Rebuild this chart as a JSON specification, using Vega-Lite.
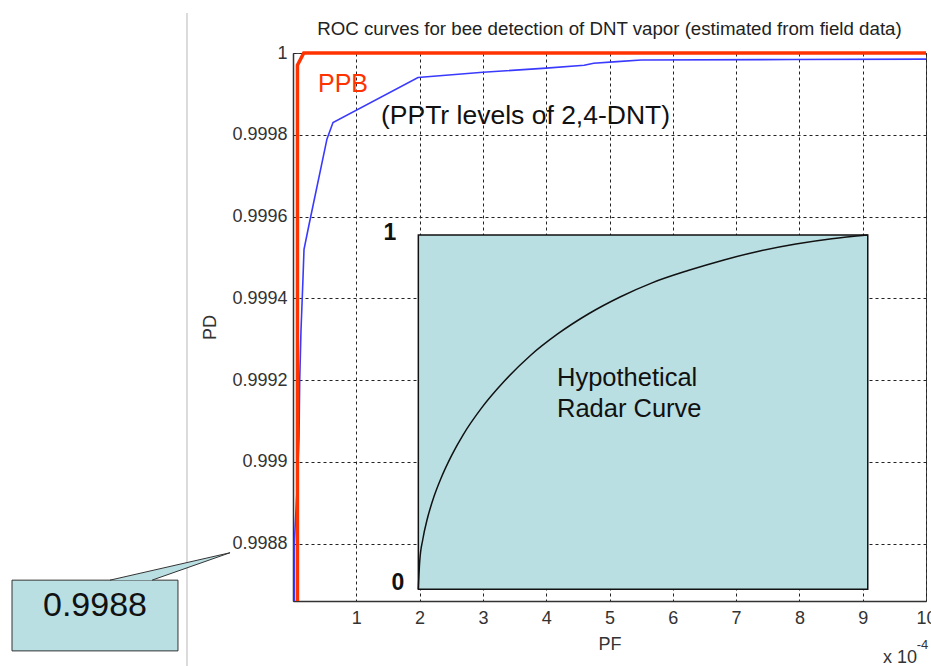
{
  "$schema": "https://vega.github.io/schema/vega-lite/v6.json",
  "width": 633,
  "height": 548,
  "autosize": "none",
  "padding": {"left": 293, "top": 53, "right": 5, "bottom": 65},
  "background": "white",
  "config": {"view": {"stroke": "#444", "strokeWidth": 1}, "font": "Liberation Sans"},
  "title": {"text": "ROC curves for bee detection of DNT vapor (estimated from field data)", "fontSize": 18.7, "font": "Liberation Sans", "fontWeight": "normal", "color": "#222", "frame": "group", "offset": 14, "dy": 40, "anchor": "middle"},
  "datasets": {
    "blue": [
      {"i": 1, "x": 0.02, "y": 0.99866},
      {"i": 2, "x": 0.02, "y": 0.9988},
      {"i": 3, "x": 0.06, "y": 0.99892},
      {"i": 4, "x": 0.095, "y": 0.99906},
      {"i": 5, "x": 0.106, "y": 0.9992},
      {"i": 6, "x": 0.126, "y": 0.99932},
      {"i": 7, "x": 0.158, "y": 0.99945},
      {"i": 8, "x": 0.174, "y": 0.99952},
      {"i": 9, "x": 0.253, "y": 0.99958},
      {"i": 10, "x": 0.537, "y": 0.99979},
      {"i": 11, "x": 0.632, "y": 0.99983},
      {"i": 12, "x": 1.975, "y": 0.99994},
      {"i": 13, "x": 3.0, "y": 0.999953},
      {"i": 14, "x": 4.0, "y": 0.999963},
      {"i": 15, "x": 4.6, "y": 0.99997},
      {"i": 16, "x": 4.75, "y": 0.999975},
      {"i": 17, "x": 5.12, "y": 0.999979},
      {"i": 18, "x": 5.5, "y": 0.999983},
      {"i": 19, "x": 7.9, "y": 0.999984},
      {"i": 20, "x": 10, "y": 0.999985}
    ],
    "red": [
      {"i": 1, "x": 0.07, "y": 0.99866},
      {"i": 2, "x": 0.07, "y": 0.99997},
      {"i": 3, "x": 0.17, "y": 1.0},
      {"i": 4, "x": 10, "y": 1.0}
    ],
    "inset": [
      {"x": 1.98, "x2": 9.08, "y": 0.998689, "y2": 0.999555}
    ],
    "curve": [
      {"x": 1.98, "y": 0.998689},
      {"x": 2.0013, "y": 0.998756},
      {"x": 2.051, "y": 0.998811},
      {"x": 2.122, "y": 0.998861},
      {"x": 2.2285, "y": 0.998916},
      {"x": 2.335, "y": 0.998959},
      {"x": 2.5125, "y": 0.999018},
      {"x": 2.69, "y": 0.999067},
      {"x": 2.974, "y": 0.999131},
      {"x": 3.329, "y": 0.999196},
      {"x": 3.755, "y": 0.999261},
      {"x": 4.181, "y": 0.999313},
      {"x": 4.678, "y": 0.999363},
      {"x": 5.175, "y": 0.999404},
      {"x": 5.672, "y": 0.999438},
      {"x": 6.24, "y": 0.999468},
      {"x": 6.808, "y": 0.999494},
      {"x": 7.376, "y": 0.999516},
      {"x": 7.944, "y": 0.999533},
      {"x": 8.512, "y": 0.999546},
      {"x": 9.08, "y": 0.999555}
    ],
    "border": [
      {"x": -1.675, "y": 0.998501, "y2": 1.0000978}
    ],
    "callout": [
      {"x": -4.439, "x2": -1.817, "y": 0.998538, "y2": 0.998711}
    ],
    "pointer": [
      {"x": -2.891, "y": 0.998711, "y2": 0.998711},
      {"x": -2.227, "y": 0.998734, "y2": 0.998711},
      {"x": -0.995, "y": 0.998778, "y2": 0.998778}
    ],
    "pointerEdge": [
      {"o": 1, "x": -2.891, "y": 0.998711},
      {"o": 2, "x": -0.995, "y": 0.998778},
      {"o": 3, "x": -2.227, "y": 0.998711}
    ],
    "labels": [
      {"kind": "callout", "x": -3.128, "y": 0.998648, "text": "0.9988"},
      {"kind": "ppb", "x": 0.395, "y": 0.999924, "text": "PPB"},
      {"kind": "pptr", "x": 1.39, "y": 0.999845, "text": "(PPTr levels of 2,4-DNT)"},
      {"kind": "hyp", "x": 4.17, "y": 0.999205, "text": "Hypothetical"},
      {"kind": "hyp", "x": 4.17, "y": 0.99913, "text": "Radar Curve"},
      {"kind": "inset", "x": 1.532, "y": 0.99956, "text": "1"},
      {"kind": "inset", "x": 1.659, "y": 0.998704, "text": "0"},
      {"kind": "mult", "x": 9.589, "y": 0.998521, "text": "x 10"},
      {"kind": "exp", "x": 9.945, "y": 0.998553, "text": "-4"}
    ]
  },
  "encoding": {
    "x": {
      "field": "x", "type": "quantitative",
      "scale": {"domain": [0, 10], "nice": false, "zero": false},
      "axis": {"title": "PF", "values": [1, 2, 3, 4, 5, 6, 7, 8, 9, 10], "format": "d", "grid": true, "gridDash": [3, 3], "gridColor": "#222", "gridWidth": 1, "ticks": false, "labelPadding": 8, "labelFontSize": 18, "labelColor": "#333", "labelFont": "Liberation Sans", "labelFlush": false, "labelOverlap": false, "titleFontSize": 18, "titleFontWeight": "normal", "titleColor": "#333", "titleFont": "Liberation Sans", "titlePadding": 8, "domainColor": "#333", "domainWidth": 1.5}
    },
    "y": {
      "field": "y", "type": "quantitative",
      "scale": {"domain": [0.99866, 1], "nice": false, "zero": false},
      "axis": {"title": "PD", "values": [0.9988, 0.999, 0.9992, 0.9994, 0.9996, 0.9998, 1], "format": ".4~f", "grid": true, "gridDash": [3, 3], "gridColor": "#222", "gridWidth": 1, "ticks": false, "labelPadding": 6, "labelFontSize": 18, "labelColor": "#333", "labelFont": "Liberation Sans", "labelFlush": false, "labelOverlap": false, "titleFontSize": 18, "titleFontWeight": "normal", "titleColor": "#333", "titleFont": "Liberation Sans", "titlePadding": 12, "domainColor": "#333", "domainWidth": 1.5}
    }
  },
  "layer": [
    {"data": {"name": "border"}, "mark": {"type": "rule", "color": "#c4c4c4", "strokeWidth": 1.2}, "encoding": {"y2": {"field": "y2"}}},
    {"data": {"name": "callout"}, "mark": {"type": "rect", "fill": "#b9dfe3", "stroke": "#333", "strokeWidth": 1}, "encoding": {"x2": {"field": "x2"}, "y2": {"field": "y2"}}},
    {"data": {"name": "pointer"}, "mark": {"type": "area", "color": "#b9dfe3", "opacity": 1}, "encoding": {"y2": {"field": "y2"}}},
    {"data": {"name": "pointerEdge"}, "mark": {"type": "line", "color": "#333", "strokeWidth": 1}, "encoding": {"order": {"field": "o"}}},
    {"data": {"name": "inset"}, "mark": {"type": "rect", "fill": "#b9dfe3", "stroke": "#111", "strokeWidth": 1.5}, "encoding": {"x2": {"field": "x2"}, "y2": {"field": "y2"}}},
    {"data": {"name": "curve"}, "mark": {"type": "line", "color": "#111", "strokeWidth": 1.5, "interpolate": "monotone"}, "encoding": {}},
    {"data": {"name": "blue"}, "mark": {"type": "line", "color": "#3a3aff", "strokeWidth": 1.6}, "encoding": {"order": {"field": "i"}}},
    {"data": {"name": "red"}, "mark": {"type": "line", "color": "#ff3300", "strokeWidth": 3.5}, "encoding": {"order": {"field": "i"}}},
    {"data": {"name": "labels"}, "transform": [{"filter": "datum.kind === 'callout'"}], "mark": {"type": "text", "font": "Liberation Sans", "fontSize": 34, "color": "#111", "align": "center", "baseline": "middle"}, "encoding": {"text": {"field": "text"}}},
    {"data": {"name": "labels"}, "transform": [{"filter": "datum.kind === 'ppb'"}], "mark": {"type": "text", "font": "Liberation Sans", "fontSize": 25, "color": "#ff3300", "align": "left", "baseline": "middle"}, "encoding": {"text": {"field": "text"}}},
    {"data": {"name": "labels"}, "transform": [{"filter": "datum.kind === 'pptr'"}], "mark": {"type": "text", "font": "Liberation Sans", "fontSize": 26.5, "color": "#111", "align": "left", "baseline": "middle"}, "encoding": {"text": {"field": "text"}}},
    {"data": {"name": "labels"}, "transform": [{"filter": "datum.kind === 'hyp'"}], "mark": {"type": "text", "font": "Liberation Sans", "fontSize": 25.5, "color": "#111", "align": "left", "baseline": "middle"}, "encoding": {"text": {"field": "text"}}},
    {"data": {"name": "labels"}, "transform": [{"filter": "datum.kind === 'inset'"}], "mark": {"type": "text", "font": "Liberation Sans", "fontSize": 23, "fontWeight": "bold", "color": "#111", "align": "center", "baseline": "middle"}, "encoding": {"text": {"field": "text"}}},
    {"data": {"name": "labels"}, "transform": [{"filter": "datum.kind === 'mult'"}], "mark": {"type": "text", "font": "Liberation Sans", "fontSize": 18, "color": "#333", "align": "center", "baseline": "middle"}, "encoding": {"text": {"field": "text"}}},
    {"data": {"name": "labels"}, "transform": [{"filter": "datum.kind === 'exp'"}], "mark": {"type": "text", "font": "Liberation Sans", "fontSize": 13, "color": "#333", "align": "center", "baseline": "middle"}, "encoding": {"text": {"field": "text"}}}
  ]
}
